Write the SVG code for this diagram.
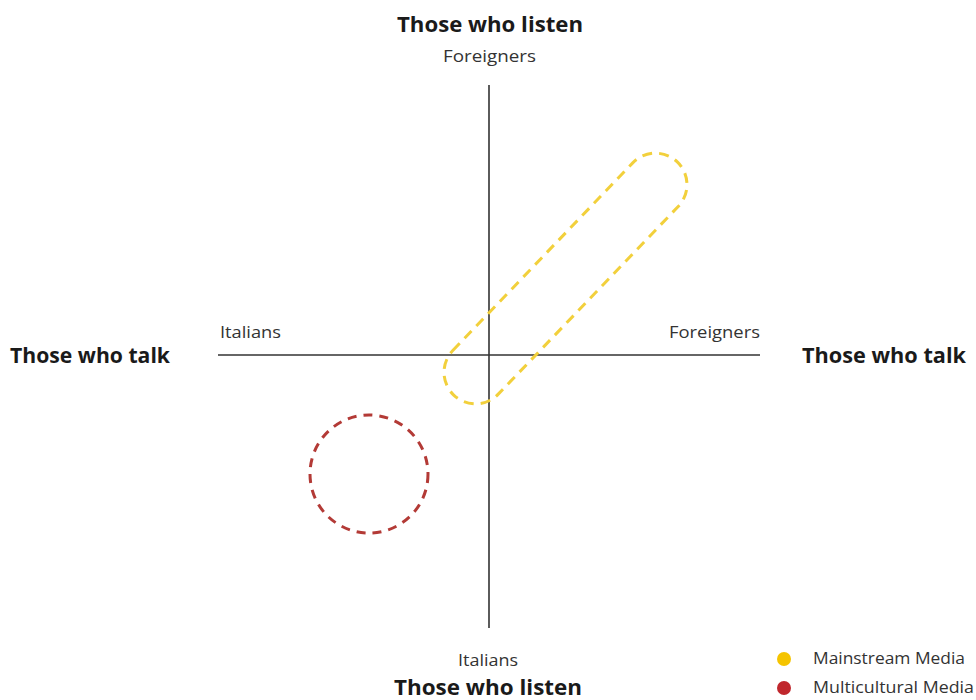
<svg xmlns="http://www.w3.org/2000/svg" width="976" height="700" viewBox="0 0 976 700">
<style>
.title{font-family:"Open Sans","Liberation Sans",sans-serif;font-weight:bold;font-size:22px;fill:#1a1a1a}
.lab{font-family:"Open Sans","Liberation Sans",sans-serif;font-size:17px;fill:#333}
.axis{stroke:#333;stroke-width:1.6}
</style>
<rect width="976" height="700" fill="#fff"/>
<g id="connectors">
<line class="axis" x1="489" y1="85" x2="489" y2="628"/>
<line class="axis" x1="218" y1="355" x2="760" y2="355"/>
</g>
<g id="mainstream">
<rect x="404" y="247" width="323" height="63" rx="31.5" ry="31.5" transform="rotate(-46.2 565.5 278.5)" fill="none" stroke="#f2d03c" stroke-width="3" stroke-dasharray="10 7"/>
</g>
<g id="multicultural">
<circle cx="369" cy="474" r="59" fill="none" stroke="#b33a36" stroke-width="3" stroke-dasharray="9 7"/>
</g>
<g id="labels">
<text class="title" x="397" y="32" textLength="186" lengthAdjust="spacingAndGlyphs">Those who listen</text>
<text class="lab" x="443" y="62" textLength="93" lengthAdjust="spacingAndGlyphs">Foreigners</text>
<text class="lab" x="220" y="338" textLength="61" lengthAdjust="spacingAndGlyphs">Italians</text>
<text class="lab" x="669" y="338" textLength="91" lengthAdjust="spacingAndGlyphs">Foreigners</text>
<text class="title" x="10" y="363" textLength="160" lengthAdjust="spacingAndGlyphs">Those who talk</text>
<text class="title" x="802" y="363" textLength="164" lengthAdjust="spacingAndGlyphs">Those who talk</text>
<text class="lab" x="458" y="666" textLength="60" lengthAdjust="spacingAndGlyphs">Italians</text>
<text class="title" x="394" y="695" textLength="188" lengthAdjust="spacingAndGlyphs">Those who listen</text>
</g>
<g id="legend">
<circle cx="784" cy="659" r="7" fill="#f5c400"/>
<text class="lab" x="813" y="664" textLength="152" lengthAdjust="spacingAndGlyphs">Mainstream Media</text>
<circle cx="784" cy="688" r="7" fill="#c0272d"/>
<text class="lab" x="813" y="693" textLength="161" lengthAdjust="spacingAndGlyphs">Multicultural Media</text>
</g>
</svg>
